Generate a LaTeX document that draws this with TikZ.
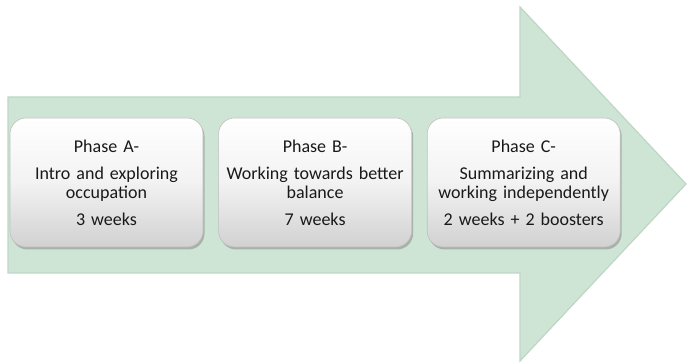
\documentclass[tikz,border=0pt]{standalone}
\usepackage{fontspec}
\setmainfont{Carlito}
\usepackage{tikz}
\usetikzlibrary{positioning,shadows}

\definecolor{arrowgreen}{RGB}{206,229,214}
\definecolor{arrowedge}{RGB}{189,214,197}

\tikzset{
  phase/.style={rectangle, rounded corners=16pt, minimum width=193pt,
    minimum height=129pt, text width=189pt, inner xsep=1pt, align=center,
    top color=white, bottom color=black!18, middle color=black!5,
    draw=black!25, line width=0.6pt,
    drop shadow={shadow xshift=1.5pt, shadow yshift=-2.5pt, opacity=0.5},
    font=\fontsize{18}{19}\selectfont, text=black!90},
  bigarrow/.style={fill=arrowgreen, draw=arrowedge, line width=1.2pt, line join=miter}
}

\begin{document}
\begin{tikzpicture}[x=1pt,y=1pt]
  \useasboundingbox (0,0) rectangle (687,363);
  % the big arrow behind the phases
  \draw[bigarrow] (8,90) -- (8,266) -- (520,266) -- (520,356)
                  -- (686,179) -- (520,2) -- (520,90) -- cycle;

  \node[phase]                        (phaseA) at (106.5,180.5)
        {Phase A-\\[8pt] Intro and exploring\\ occupation\\[8pt] 3 weeks};
  \node[phase, right=15pt of phaseA]  (phaseB)
        {Phase B-\\[8pt] Working towards better\\ balance\\[8pt] 7 weeks};
  \node[phase, right=15pt of phaseB]  (phaseC)
        {Phase C-\\[8pt] Summarizing and\\ working independently\\[8pt] 2 weeks + 2 boosters};
\end{tikzpicture}
\end{document}
